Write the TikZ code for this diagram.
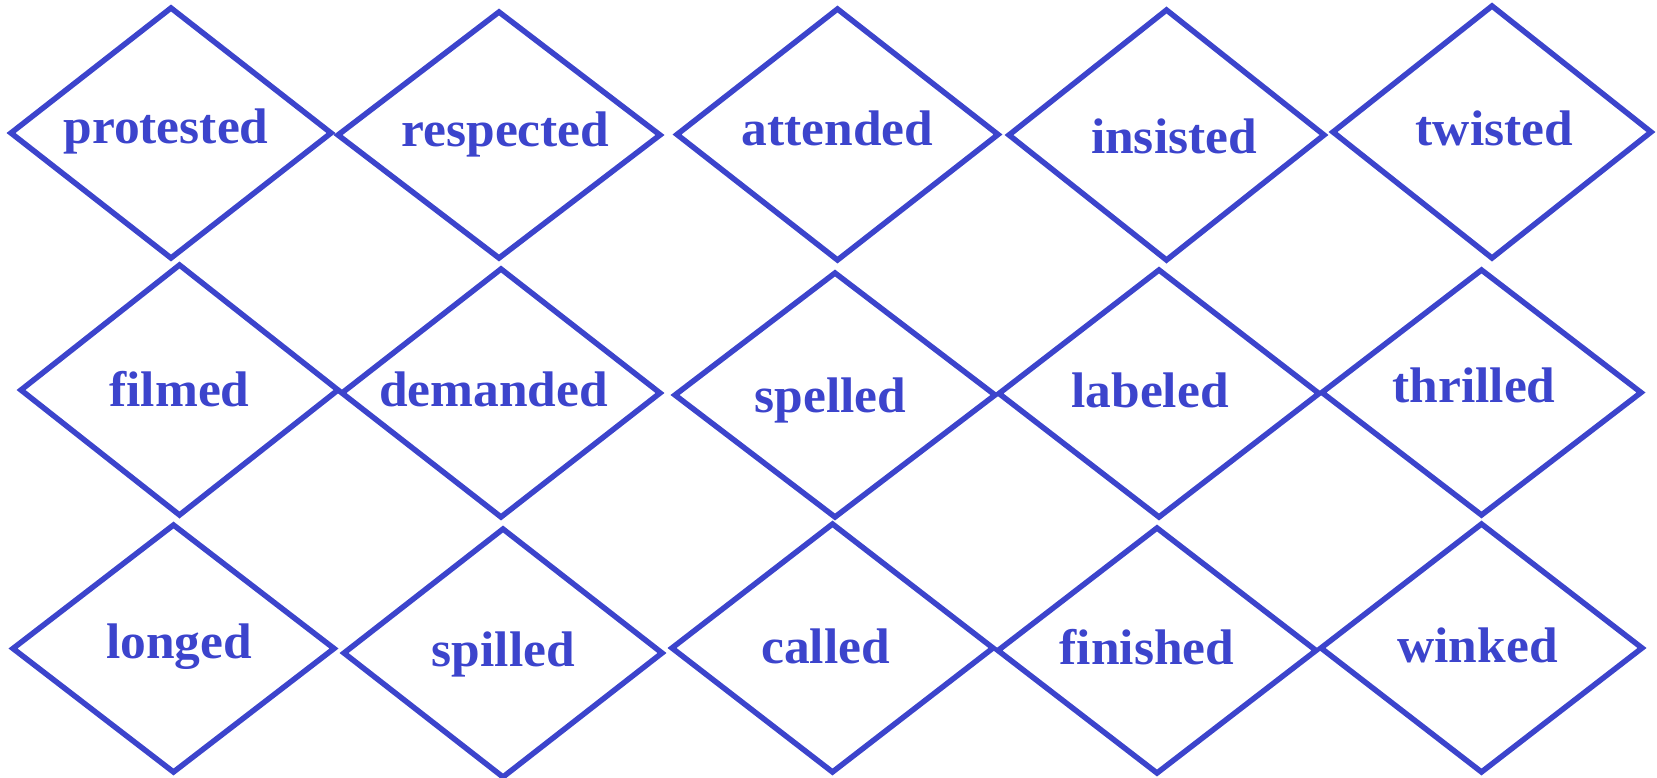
\documentclass[tikz,border=0pt]{standalone}
\usepackage{fontspec}
\setmainfont{Liberation Serif}[FakeStretch=1.03]
\usetikzlibrary{shapes.geometric}
\definecolor{dblue}{RGB}{60,68,204}
\tikzset{
  dia/.style={shape=diamond, draw=dblue, line width=5.5pt, inner sep=0pt, outer sep=0pt, line join=miter},
  word/.style={anchor=base, text=dblue, inner sep=0pt, font=\fontsize{50}{60}\selectfont\bfseries}
}
\begin{document}
\begin{tikzpicture}[x=1pt,y=-1pt]
\useasboundingbox (0,0) rectangle (1657,777);
% row 1
\node[dia, minimum width=320pt, minimum height=250pt] (d1) at (171,133) {};
\node[dia, minimum width=322pt, minimum height=246pt] (d2) at (499,135) {};
\node[dia, minimum width=321pt, minimum height=251pt] (d3) at (837.5,134.5) {};
\node[dia, minimum width=315pt, minimum height=250pt] (d4) at (1166.5,135) {};
\node[dia, minimum width=318pt, minimum height=252pt] (d5) at (1492,132) {};
% row 2
\node[dia, minimum width=317pt, minimum height=250pt] (d6) at (179.5,390) {};
\node[dia, minimum width=318pt, minimum height=248pt] (d7) at (501,393) {};
\node[dia, minimum width=320pt, minimum height=244pt] (d8) at (835,395) {};
\node[dia, minimum width=320pt, minimum height=247pt] (d9) at (1159,393.5) {};
\node[dia, minimum width=319pt, minimum height=245pt] (d10) at (1481.5,392.5) {};
% row 3
\node[dia, minimum width=321pt, minimum height=247pt] (d11) at (173.5,648.5) {};
\node[dia, minimum width=318pt, minimum height=248pt] (d12) at (503,653) {};
\node[dia, minimum width=321pt, minimum height=248pt] (d13) at (832.5,648) {};
\node[dia, minimum width=318pt, minimum height=245pt] (d14) at (1157,650.5) {};
\node[dia, minimum width=321pt, minimum height=248pt] (d15) at (1481.5,648) {};
% words
\node[word] (t1) at (166,143) {protested};
\node[word] (t2) at (505.5,146) {respected};
\node[word] (t3) at (837.5,145) {attended};
\node[word] (t4) at (1174,153) {insisted};
\node[word] (t5) at (1494.5,145) {twisted};
\node[word] (t6) at (179.5,406) {filmed};
\node[word] (t7) at (493.5,406) {demanded};
\node[word] (t8) at (830.5,412) {spelled};
\node[word] (t9) at (1150,407) {labeled};
\node[word] (t10) at (1474,402) {thrilled};
\node[word] (t11) at (179,658) {longed};
\node[word] (t12) at (503.5,666) {spilled};
\node[word] (t13) at (825.5,663) {called};
\node[word] (t14) at (1147,664) {finished};
\node[word] (t15) at (1477.5,662) {winked};
\end{tikzpicture}
\end{document}
